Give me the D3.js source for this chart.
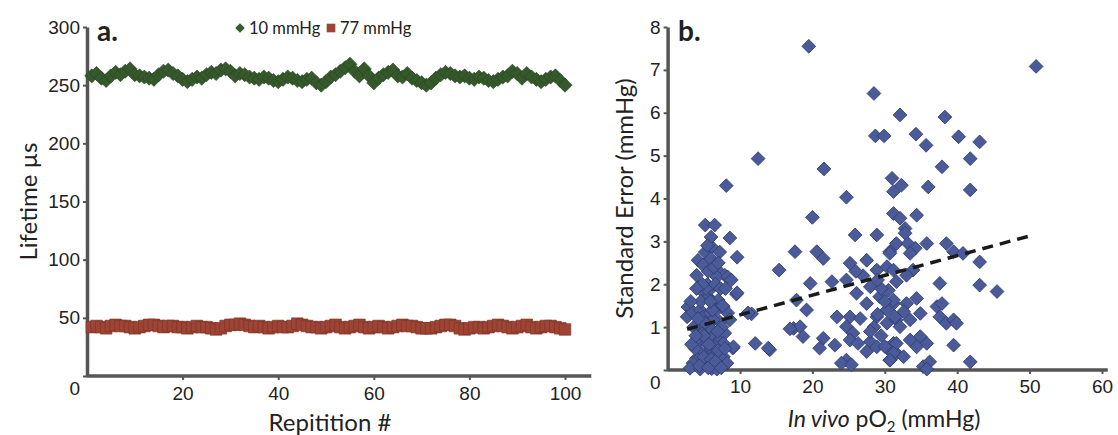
<!DOCTYPE html>
<html>
<head>
<meta charset="utf-8">
<script src="https://cdn.jsdelivr.net/npm/d3@7"></script>
<style>
  body { margin: 0; background: #fff; }
  svg { display: block; font-family: "Lato", "Open Sans", sans-serif; }
  .tick text { font-size: 19px; fill: #222; }
  .axis .domain { stroke: #555; stroke-width: 3.5; }
  .axis .tick line { stroke: #555; stroke-width: 2; }
</style>
</head>
<body>
<div id="chart"></div>
<script>
// panel a: lifetime per repetition
const repetition = d3.range(1, 101);
const life10 = [
  258, 260, 256, 254, 258, 261, 259, 262, 264, 259,
  258, 257, 256, 255, 259, 262, 263, 260, 258, 255,
  253, 255, 257, 256, 259, 261, 260, 263, 264, 262,
  258, 260, 259, 257, 256, 255, 257, 256, 254, 253,
  255, 257, 256, 254, 253, 255, 256, 252, 250, 253,
  257, 259, 262, 265, 268, 262, 258, 264, 258, 252,
  256, 259, 261, 263, 258, 257, 260, 256, 254, 252,
  250, 252, 256, 259, 261, 260, 258, 257, 258, 256,
  255, 257, 256, 254, 253, 255, 257, 258, 262, 260,
  256, 260, 257, 255, 253, 255, 257, 258, 254, 250
];
const life77 = [
  42, 43, 42, 41, 43, 44, 43, 43, 42, 41,
  42, 43, 44, 44, 43, 42, 43, 43, 42, 42,
  41, 42, 43, 42, 42, 41, 40, 41, 43, 44,
  44, 45, 44, 43, 42, 43, 42, 41, 42, 43,
  42, 42, 43, 45, 44, 43, 42, 42, 41, 42,
  43, 44, 42, 41, 42, 43, 44, 42, 41, 42,
  43, 42, 41, 42, 43, 44, 43, 43, 42, 41,
  41, 41, 42, 43, 44, 44, 43, 41, 40, 41,
  42, 42, 41, 42, 43, 44, 43, 42, 41, 42,
  43, 44, 42, 41, 42, 43, 43, 42, 41, 40
];
const seriesNames = ["10 mmHg", "77 mmHg"];
const xTicksA = [20, 40, 60, 80, 100];
const yTicksA = [0, 50, 100, 150, 200, 250, 300];

// panel b: in vivo pO2 vs standard error
const pO2 = [
  19.5, 50.9, 28.5, 32.1, 38.3, 28.7, 29.9, 34.3, 35.7, 40.2, 43.1,
  12.5, 21.6, 37.9, 41.8, 31.0, 32.3, 31.2, 36.0, 41.8, 8.1, 24.7,
  20.0, 31.2, 32.1, 34.4, 32.8, 5.2, 6.5, 8.6, 25.9, 28.9, 32.8,
  31.6, 33.2, 34.2, 35.8, 33.5, 38.5, 39.5, 40.8, 30.7, 43.1,
  17.6, 20.6, 21.5, 30.7, 15.4, 25.2, 27.5, 28.9, 30.3, 31.2, 33.9, 33.0, 31.6,
  19.7, 22.7, 24.7, 26.1, 28.0, 29.3, 30.5, 31.2, 30.3, 37.6, 43.1, 45.5,
  17.8, 19.2, 27.5, 23.4, 25.2, 26.6, 24.7, 25.6, 28.9, 30.3, 31.6,
  31.2, 33.0, 34.4, 32.6, 31.4, 33.5, 32.1, 34.9, 37.2, 37.9, 37.6, 38.5, 39.5, 39.9,
  17.4, 18.3, 18.7, 21.5, 23.1, 21.0, 25.2, 26.3, 28.0, 28.9, 27.5, 30.3, 31.2,
  24.7, 24.0, 25.4, 14.1, 31.6, 30.7, 12.1, 13.9, 9.0, 11.6, 9.5, 16.9,
  31.6, 33.5, 34.9, 35.8, 34.4, 39.5, 31.2, 32.6, 35.3, 36.2, 35.8, 41.8, 30.7,
  29.5, 29.0, 30.0, 28.5, 29.5, 30.0, 29.0, 27.0, 26.0, 28.0,
  5.2, 6.1, 7.2, 9.6, 4.2, 4.9, 4.0, 6.5, 7.2, 7.9, 6.8, 8.3, 9.6,
  4.3, 4.9, 5.6, 6.3, 7.0, 2.8, 2.7, 3.5, 4.5, 4.9, 5.9, 6.8, 7.7, 8.3, 8.6, 7.2, 6.3, 11.1,
  4.0, 4.9, 4.5, 5.4, 6.3, 7.2, 7.9, 7.7, 5.9, 6.8, 4.7, 4.0, 3.5, 3.1, 5.4, 6.3, 7.2, 7.7,
  4.5, 6.1, 6.8, 8.2, 9.1, 5.5, 6.0, 5.8, 6.5, 5.0, 7.5, 3.8, 5.2, 6.0, 7.0,
  3.3, 3.6, 4.2, 4.6, 5.3, 5.6, 6.0, 6.6, 7.3, 7.6, 5.0, 5.7, 6.2, 6.9, 7.9,
  4.4, 5.6, 6.6, 7.4, 3.9, 4.8, 5.9, 6.4, 7.0, 8.0, 8.8, 3.2, 4.0, 6.0, 5.5
];
const stdErr = [
  7.55, 7.08, 6.45, 5.95, 5.90, 5.46, 5.46, 5.50, 5.24, 5.44, 5.32,
  4.93, 4.69, 4.74, 4.93, 4.47, 4.31, 4.16, 4.27, 4.20, 4.30, 4.03,
  3.56, 3.65, 3.54, 3.61, 3.30, 3.38, 3.38, 3.08, 3.15, 3.15, 3.19,
  2.95, 2.95, 2.84, 2.95, 2.72, 2.95, 2.76, 2.72, 2.76, 2.52,
  2.76, 2.76, 2.60, 2.72, 2.33, 2.49, 2.56, 2.33, 2.41, 2.33, 2.33, 2.21, 2.06,
  2.02, 2.06, 2.10, 1.79, 1.94, 1.71, 1.86, 1.55, 1.40, 2.02, 1.98, 1.83,
  1.63, 1.40, 1.55, 1.24, 1.24, 1.20, 1.01, 0.86, 1.24, 1.09, 1.17,
  1.63, 1.55, 1.67, 1.36, 1.24, 1.17, 1.01, 1.32, 1.48, 1.55, 1.24, 1.09, 1.17, 1.09,
  0.97, 1.01, 0.78, 0.74, 0.58, 0.51, 0.70, 0.62, 0.66, 0.54, 0.43, 0.51, 0.62,
  0.23, 0.16, 0.12, 0.47, 0.39, 0.23, 0.62, 0.51, 0.51, 1.31, 1.77, 0.96,
  0.62, 0.70, 0.78, 0.62, 0.54, 0.58, 0.39, 0.31, 0.08, 0.19, 0.02, 0.19, 0.23,
  1.90, 2.10, 1.60, 1.00, 0.80, 0.55, 1.30, 2.20, 2.30, 0.90,
  2.75, 2.87, 2.75, 2.63, 2.56, 2.45, 2.21, 2.38, 2.28, 2.21, 2.17, 2.17, 1.80,
  1.93, 1.82, 1.70, 1.59, 1.63, 1.47, 1.24, 1.35, 1.40, 1.24, 1.33, 1.40, 1.47, 1.33, 1.17, 1.12, 1.17, 1.33,
  1.01, 0.86, 0.70, 0.62, 0.78, 0.70, 0.86, 0.62, 0.47, 0.39, 0.39, 0.27, 0.16, 0.04, 0.16, 0.08, 0.19, 0.31,
  0.02, 0.03, 0.02, 0.16, 0.54, 2.00, 1.90, 1.00, 0.55, 0.30, 1.00, 0.50, 1.10, 0.25, 0.45,
  0.60, 1.00, 1.20, 1.60, 1.90, 2.30, 2.60, 2.00, 1.90, 1.50, 0.80, 0.60, 1.40, 0.90, 0.50,
  0.10, 0.05, 0.20, 0.05, 0.80, 2.00, 1.60, 2.40, 2.50, 1.90, 2.10, 1.60, 1.90, 3.10, 2.90
];
const fitLine = [{ x: 2.7, y: 0.95 }, { x: 50.5, y: 3.15 }];
const xTicksB = [10, 20, 30, 40, 50, 60];
const yTicksB = [0, 1, 2, 3, 4, 5, 6, 7, 8];

const width = 1118;
const height = 435;
const green = "#36592c";
const red = "#9e4434";
const blue = "#4b5b9a";

const svg = d3.select("#chart").append("svg")
  .attr("width", width)
  .attr("height", height);

// square symbol, rotated 45deg for the diamonds
const square = d3.symbol().type(d3.symbolSquare);

// ---------- panel a ----------
const xA = d3.scaleLinear().domain([0, 100]).range([87, 565]);
const yA = d3.scaleLinear().domain([0, 300]).range([376, 27]);

svg.append("g")
  .attr("class", "axis")
  .attr("transform", `translate(0,${yA(0)})`)
  .call(d3.axisBottom(xA).tickValues(xTicksA).tickSize(4).tickSizeOuter(0).tickPadding(7))
  .select(".domain").attr("d", `M${xA(0)},0H${xA(105.5)}`);

svg.append("g")
  .attr("class", "axis")
  .attr("transform", `translate(${xA(0)},0)`)
  .call(d3.axisLeft(yA).tickValues(yTicksA).tickSize(4).tickSizeOuter(0).tickPadding(3))
  .call((g) => g.selectAll(".tick").filter((d) => d === 0).select("text").attr("dy", "0.95em"));

svg.append("g").selectAll("path")
  .data(life77)
  .join("path")
  .attr("d", square.size(135)())
  .attr("transform", (d, i) => `translate(${xA(repetition[i])},${yA(d)})`)
  .attr("fill", red)
  .attr("stroke", "#7a3225")
  .attr("stroke-width", 0.6);

svg.append("g").selectAll("path")
  .data(life10)
  .join("path")
  .attr("d", square.size(100)())
  .attr("transform", (d, i) => `translate(${xA(repetition[i])},${yA(d)}) rotate(45)`)
  .attr("fill", green)
  .attr("stroke", "#26421f")
  .attr("stroke-width", 0.6);

svg.append("text")
  .attr("x", 97).attr("y", 41)
  .attr("font-size", 28).attr("font-weight", "bold").attr("fill", "#222")
  .text("a.");

// legend
const legend = svg.append("g").attr("transform", "translate(240,28)");
legend.append("path").attr("d", square.size(45)()).attr("transform", "rotate(45)").attr("fill", green);
legend.append("text").attr("x", 9).attr("y", 6).attr("font-size", 16.5).attr("fill", "#222").text(seriesNames[0]);
legend.append("path").attr("d", square.size(75)()).attr("transform", "translate(91,0)").attr("fill", red);
legend.append("text").attr("x", 100).attr("y", 6).attr("font-size", 16.5).attr("fill", "#222").text(seriesNames[1]);

svg.append("text")
  .attr("transform", `translate(37,${yA(150)}) rotate(-90)`)
  .attr("text-anchor", "middle")
  .attr("font-size", 24).attr("fill", "#222")
  .text("Lifetime µs");

svg.append("text")
  .attr("x", 330).attr("y", 431)
  .attr("text-anchor", "middle")
  .attr("font-size", 24).attr("fill", "#222")
  .text("Repitition #");

// ---------- panel b ----------
const xB = d3.scaleLinear().domain([0, 60]).range([667.6, 1102]);
const yB = d3.scaleLinear().domain([0, 8]).range([370, 27]);

svg.append("g")
  .attr("class", "axis")
  .attr("transform", `translate(0,${yB(0)})`)
  .call(d3.axisBottom(xB).tickValues(xTicksB).tickSize(4).tickSizeOuter(0).tickPadding(6))
  .select(".domain").attr("d", `M${xB(0)},0H${xB(60.8)}`);

svg.append("g")
  .attr("class", "axis")
  .attr("transform", `translate(${xB(0)},0)`)
  .call(d3.axisLeft(yB).tickValues(yTicksB).tickSize(4).tickSizeOuter(0).tickPadding(3))
  .call((g) => g.selectAll(".tick").filter((d) => d === 0).select("text").attr("dy", "0.95em"));

svg.append("g").selectAll("path")
  .data(pO2)
  .join("path")
  .attr("d", square.size(95)())
  .attr("transform", (d, i) => `translate(${xB(d)},${yB(stdErr[i])}) rotate(45)`)
  .attr("fill", blue)
  .attr("stroke", "#2f3b70")
  .attr("stroke-width", 0.8);

svg.append("path")
  .datum(fitLine)
  .attr("d", d3.line().x((d) => xB(d.x)).y((d) => yB(d.y)))
  .attr("fill", "none")
  .attr("stroke", "#1a1a1a")
  .attr("stroke-width", 3.5)
  .attr("stroke-dasharray", "11,7");

svg.append("text")
  .attr("x", 678).attr("y", 41)
  .attr("font-size", 28).attr("font-weight", "bold").attr("fill", "#222")
  .text("b.");

svg.append("text")
  .attr("transform", `translate(633,${yB(4)}) rotate(-90)`)
  .attr("text-anchor", "middle")
  .attr("font-size", 24).attr("fill", "#222")
  .text("Standard Error (mmHg)");

const xLab = svg.append("text")
  .attr("x", 884).attr("y", 427)
  .attr("text-anchor", "middle")
  .attr("font-size", 23).attr("fill", "#222");
xLab.append("tspan").attr("font-style", "italic").text("In vivo");
xLab.append("tspan").text(" pO");
xLab.append("tspan").attr("font-size", 15).attr("dy", 5).text("2");
xLab.append("tspan").attr("dy", -5).text(" (mmHg)");
</script>
</body>
</html>
